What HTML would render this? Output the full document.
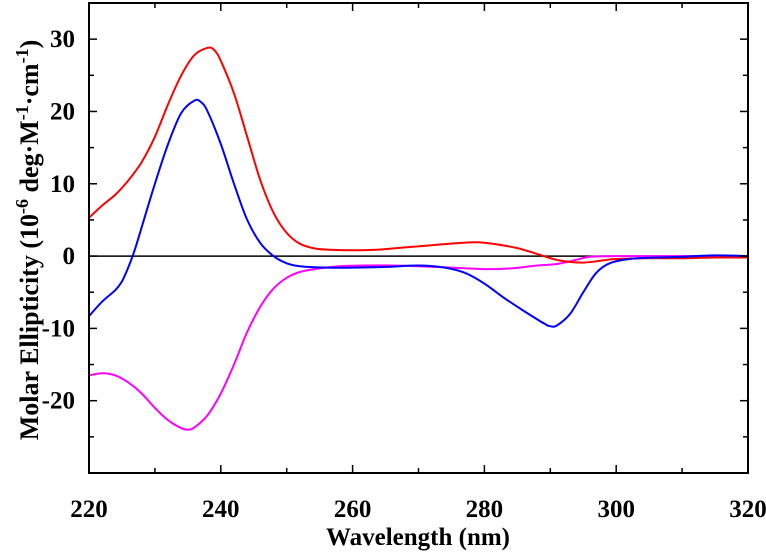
<!DOCTYPE html>
<html><head><meta charset="utf-8"><style>
body{margin:0;background:#fff;width:766px;height:551px;overflow:hidden}
text{font-family:"Liberation Serif",serif;font-weight:bold}
</style></head><body>
<svg id="chart" width="766" height="551" viewBox="0 0 766 551" xmlns="http://www.w3.org/2000/svg"></svg>
<script>
const xTicks=[220,240,260,280,300,320];
const yTicks=[-20,-10,0,10,20,30];
const redX=[220,222,224,226,228,230,232,234,236,238,239,240,242,244,246,248,250,252,254,256,260,264,268,272,276,279,282,285,288,290,292,295,298,300,305,310,315,320];
const redY=[5.3,7,8.5,10.5,13,16.5,21,25,27.8,28.8,28.5,27,22.5,16.5,10.5,6,3.2,1.7,1.1,0.9,0.8,0.9,1.2,1.5,1.8,1.9,1.6,1.1,0.3,-0.3,-0.7,-0.9,-0.6,-0.4,-0.3,-0.3,-0.2,-0.2];
const blueX=[220,222,224,225,226,227,228,230,232,234,236,237,238,240,242,244,246,248,250,252,256,260,265,270,274,277,280,283,286,289,290,291,293,295,297,299,302,306,310,315,320];
const blueY=[-8.3,-6.3,-4.7,-3.5,-1.5,1,4,10,15.5,19.8,21.5,21.3,20,15.5,10,5,1.8,0,-1,-1.4,-1.6,-1.6,-1.5,-1.3,-1.6,-2.3,-3.8,-5.8,-7.6,-9.3,-9.7,-9.6,-8,-5,-2.3,-1,-0.4,-0.2,-0.1,0.1,0];
const magX=[220,222,224,226,228,230,232,234,235,236,238,240,242,244,246,248,250,252,255,258,262,266,270,275,280,284,288,291,294,296,300,310,320];
const magY=[-16.5,-16.2,-16.5,-17.5,-19,-21,-22.7,-23.8,-24,-23.7,-22,-19,-15,-10.5,-7,-4.5,-3,-2.2,-1.7,-1.4,-1.3,-1.3,-1.4,-1.6,-1.8,-1.7,-1.3,-1.1,-0.5,-0.1,0,0,0];

const L=89,R=748,T=3,B=473,xmin=220,xmax=320,ymin=-30,ymax=35;
const sx=v=>L+(v-xmin)/(xmax-xmin)*(R-L);
const sy=v=>B-(v-ymin)/(ymax-ymin)*(B-T);
const svg=document.getElementById('chart');
const NS='http://www.w3.org/2000/svg';
function mk(tag,attrs,parent){const e=document.createElementNS(NS,tag);for(const k in attrs)e.setAttribute(k,attrs[k]);(parent||svg).appendChild(e);return e;}

let z=mk('line',{x1:L,x2:R,y1:sy(0),y2:sy(0),stroke:'#000','stroke-width':1.5});



function series(xs,ys,color,name){
  const P=xs.map((x,i)=>[sx(x),sy(ys[i])]);
  let d='M'+P[0][0].toFixed(1)+','+P[0][1].toFixed(1);
  for(let i=0;i<P.length-1;i++){
    const p0=P[Math.max(0,i-1)],p1=P[i],p2=P[i+1],p3=P[Math.min(P.length-1,i+2)];
    const c1=[p1[0]+(p2[0]-p0[0])/6,p1[1]+(p2[1]-p0[1])/6];
    const c2=[p2[0]-(p3[0]-p1[0])/6,p2[1]-(p3[1]-p1[1])/6];
    d+='C'+c1.map(v=>v.toFixed(1)).join(',')+' '+c2.map(v=>v.toFixed(1)).join(',')+' '+p2.map(v=>v.toFixed(1)).join(',');
  }
  const p=mk('path',{d:d,fill:'none',stroke:color,'stroke-width':2,'stroke-linejoin':'round'});
  
  
}
series(magX,magY,'#ff00ff','magenta-series');
series(redX,redY,'#ff0000','red-series');
series(blueX,blueY,'#0000ff','blue-series');

let f=mk('rect',{x:L,y:T,width:R-L,height:B-T,fill:'none',stroke:'#000','stroke-width':2});



for(let v=xmin;v<=xmax;v+=10){
  const major=(v-xmin)%20===0, len=major?8:5;
  mk('line',{x1:sx(v),x2:sx(v),y1:B,y2:B-len,stroke:'#000','stroke-width':1.5});
  mk('line',{x1:sx(v),x2:sx(v),y1:T,y2:T+len,stroke:'#000','stroke-width':1.5});
}
xTicks.forEach(v=>{
  const t=mk('text',{x:sx(v),y:B+44,'text-anchor':'middle','font-size':25});
  t.textContent=v;
  
  
});
for(let v=-25;v<=35;v+=5){
  const major=v%10===0, len=major?8:5;
  mk('line',{x1:L,x2:L+len,y1:sy(v),y2:sy(v),stroke:'#000','stroke-width':1.5});
  mk('line',{x1:R,x2:R-len,y1:sy(v),y2:sy(v),stroke:'#000','stroke-width':1.5});
}
yTicks.forEach(v=>{
  const t=mk('text',{x:L-14,y:sy(v)+8,'text-anchor':'end','font-size':25});
  t.textContent=v;
  
  
});
</script>
<svg style="position:absolute;left:0;top:0" width="766" height="551" xmlns="http://www.w3.org/2000/svg">
<text x="418" y="545" text-anchor="middle" font-size="25">Wavelength (nm)</text>
<text transform="translate(38,240) rotate(-90)" text-anchor="middle" font-size="26">Molar Ellipticity  (10<tspan dy="-10" font-size="18">-6</tspan><tspan dy="10"> deg·M</tspan><tspan dy="-10" font-size="18">-1</tspan><tspan dy="10">·cm</tspan><tspan dy="-10" font-size="18">-1</tspan><tspan dy="10">)</tspan></text>
</svg>
</body></html>
